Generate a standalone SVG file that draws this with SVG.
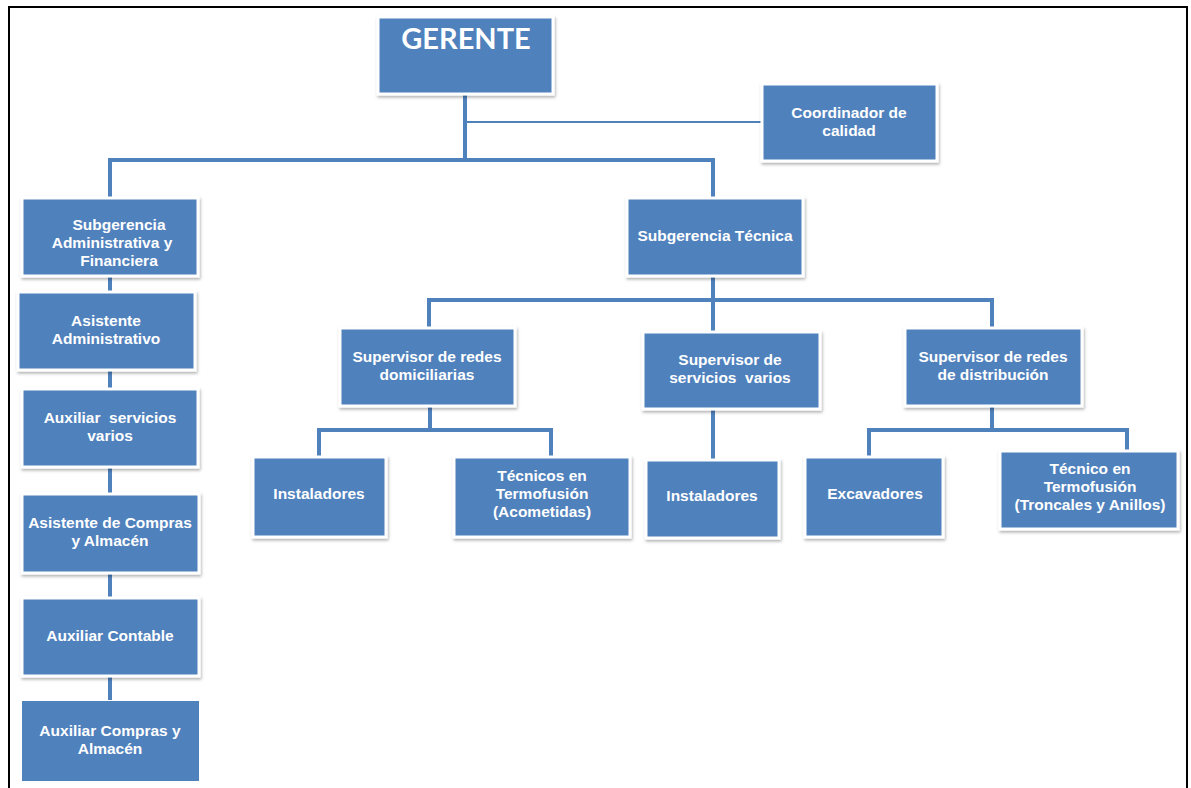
<svg xmlns="http://www.w3.org/2000/svg" width="1191" height="788" viewBox="0 0 1191 788">
<defs>
<filter id="sh" x="-10%" y="-10%" width="125%" height="130%">
<feDropShadow dx="1" dy="2" stdDeviation="1.5" flood-color="#000" flood-opacity="0.3"/>
</filter>
</defs>
<style>
.box{fill:#4F81BD;stroke:#ffffff;stroke-width:3;filter:url(#sh)}
.plain{fill:#4F81BD}
.t{font-family:"Liberation Sans",Arial,sans-serif;font-weight:bold;font-size:15.5px;fill:#ffffff;text-anchor:middle;white-space:pre}
.big{font-family:Lato,"Liberation Sans",sans-serif;font-size:29px}
.ln{stroke:#4F81BD;stroke-width:4;fill:none}
.thin{stroke:#4F81BD;stroke-width:2;fill:none}
</style>
<rect x="0" y="0" width="1191" height="788" fill="#ffffff"/>
<path d="M9 788 V7 H1187 V788" fill="none" stroke="#000" stroke-width="2"/>
<g id="connectors">
<path class="ln" d="M465 94 V160 M110 197 V160 H713 V197"/>
<path class="thin" d="M465 122 H762"/>
<path class="ln" d="M110 276 V291 M110 370 V388 M110 467 V493 M110 573 V597 M110 676 V700"/>
<path class="ln" d="M713 276 V300 M429 327 V300 H992 V327 M713 300 V331"/>
<path class="ln" d="M430 406 V430 M319 457 V430 H551 V457"/>
<path class="ln" d="M713 409 V459"/>
<path class="ln" d="M992 406 V430 M869 456 V430 H1127 V451"/>
</g>
<g id="gerente"><rect class="box" x="378" y="17" width="175" height="77"/><text class="t big" x="466" y="49">GERENTE</text></g>
<g id="coordinador"><rect class="box" x="762" y="84" width="175" height="77"/><text class="t" x="849" y="118">Coordinador de</text><text class="t" x="849" y="136">calidad</text></g>
<g id="subgerencia-admin"><rect class="box" x="22" y="198" width="176" height="78"/><text class="t" x="119" y="230">Subgerencia</text><text class="t" x="112" y="248">Administrativa y</text><text class="t" x="119" y="266">Financiera</text></g>
<g id="asistente-admin"><rect class="box" x="18" y="292" width="177" height="78"/><text class="t" x="106" y="326">Asistente</text><text class="t" x="106" y="344">Administrativo</text></g>
<g id="auxiliar-servicios"><rect class="box" x="22" y="389" width="176" height="78"/><text class="t" x="110" y="423">Auxiliar  servicios</text><text class="t" x="110" y="441">varios</text></g>
<g id="asistente-compras"><rect class="box" x="22" y="494" width="177" height="79"/><text class="t" x="110" y="528">Asistente de Compras</text><text class="t" x="110" y="546">y Almacén</text></g>
<g id="auxiliar-contable"><rect class="box" x="22" y="598" width="177" height="78"/><text class="t" x="110" y="641">Auxiliar Contable</text></g>
<g id="auxiliar-compras"><rect class="plain" x="22" y="701" width="177" height="80"/><text class="t" x="110" y="736">Auxiliar Compras y</text><text class="t" x="110" y="754">Almacén</text></g>
<g id="subgerencia-tecnica"><rect class="box" x="627" y="198" width="176" height="78"/><text class="t" x="715" y="241">Subgerencia Técnica</text></g>
<g id="sup-domiciliarias"><rect class="box" x="340" y="328" width="175" height="78"/><text class="t" x="427" y="362">Supervisor de redes</text><text class="t" x="427" y="380">domiciliarias</text></g>
<g id="sup-servicios"><rect class="box" x="643" y="332" width="177" height="77"/><text class="t" x="730" y="365">Supervisor de</text><text class="t" x="730" y="383">servicios  varios</text></g>
<g id="sup-distribucion"><rect class="box" x="905" y="328" width="177" height="78"/><text class="t" x="993" y="362">Supervisor de redes</text><text class="t" x="993" y="380">de distribución</text></g>
<g id="instaladores-1"><rect class="box" x="253" y="457" width="133" height="80"/><text class="t" x="319" y="499">Instaladores</text></g>
<g id="tecnicos-acometidas"><rect class="box" x="454" y="457" width="176" height="80"/><text class="t" x="542" y="481">Técnicos en</text><text class="t" x="542" y="499">Termofusión</text><text class="t" x="542" y="517">(Acometidas)</text></g>
<g id="instaladores-2"><rect class="box" x="646" y="460" width="133" height="78"/><text class="t" x="712" y="501">Instaladores</text></g>
<g id="excavadores"><rect class="box" x="805" y="457" width="138" height="80"/><text class="t" x="875" y="499">Excavadores</text></g>
<g id="tecnico-troncales"><rect class="box" x="1000" y="451" width="178" height="78"/><text class="t" x="1090" y="474">Técnico en</text><text class="t" x="1090" y="492">Termofusión</text><text class="t" x="1090" y="510">(Troncales y Anillos)</text></g>
</svg>
